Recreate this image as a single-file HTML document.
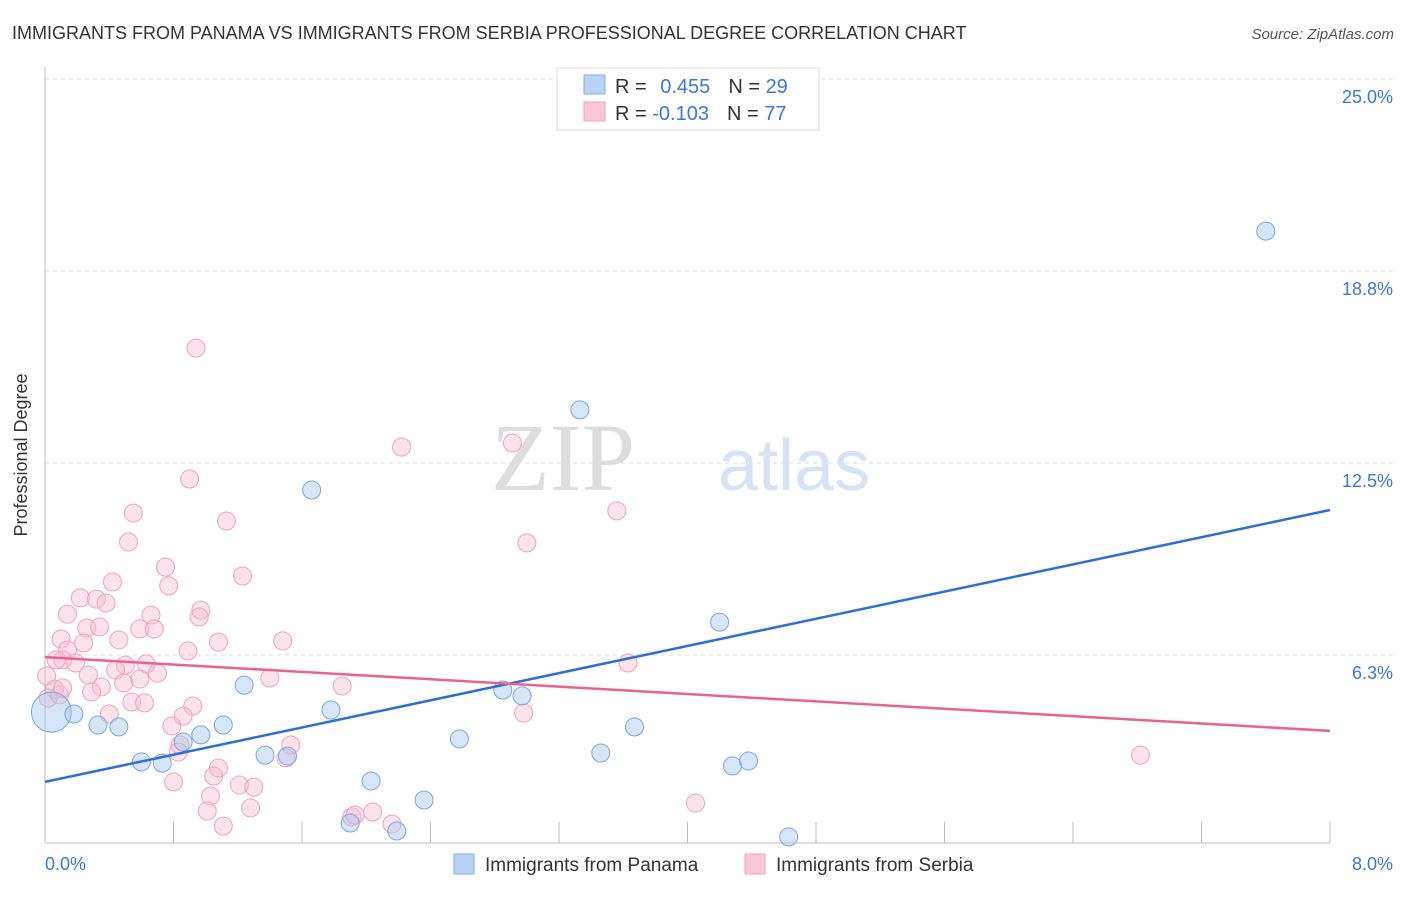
<!DOCTYPE html>
<html><head><meta charset="utf-8"><style>
body{margin:0;background:#fff;font-family:"Liberation Sans",sans-serif}
svg text{font-family:"Liberation Sans",sans-serif}
</style></head><body>
<svg width="1406" height="892" xmlns="http://www.w3.org/2000/svg">
<text x="12" y="39" font-size="18" fill="#333">IMMIGRANTS FROM PANAMA VS IMMIGRANTS FROM SERBIA PROFESSIONAL DEGREE CORRELATION CHART</text>
<text x="1394" y="39" font-size="15" fill="#555" text-anchor="end" font-style="italic">Source: ZipAtlas.com</text>
<text x="635" y="490" font-size="96" fill="#ddd" text-anchor="end" font-family="Liberation Serif" style="font-family:'Liberation Serif',serif">ZIP</text>
<text x="718" y="490" font-size="72" fill="#d5e3f5">atlas</text>
<g id="grid"></g>
<line x1="45" y1="67" x2="45" y2="843" stroke="#bbb"/>
<line x1="45" y1="843" x2="1330" y2="843" stroke="#bbb"/>
<g id="xt"></g>
<text x="27" y="455" font-size="18" fill="#333" text-anchor="middle" transform="rotate(-90 27 455)">Professional Degree</text>
<text x="45" y="870" font-size="18" fill="#3a78d4">0.0%</text>
<text x="1393" y="870" font-size="18" fill="#3a78d4" text-anchor="end">8.0%</text>
<g id="pts"></g>
<g id="lines"></g>
<g>
<rect x="557" y="68" width="262" height="62" fill="#fff" stroke="#ddd"/>
<rect x="584" y="75" width="21" height="19" fill="#b8d3f5" stroke="#86acdf"/>
<rect x="584" y="102" width="21" height="19" fill="#f9c6d5" stroke="#eda5bc"/>
<text x="615" y="93" font-size="20" fill="#333">R = <tspan fill="#3a78d4" dx="8">0.455</tspan><tspan dx="18" fill="#333">N = </tspan><tspan fill="#3a78d4">29</tspan></text>
<text x="615" y="120" font-size="20" fill="#333">R = <tspan fill="#3a78d4">-0.103</tspan><tspan dx="18" fill="#333">N = </tspan><tspan fill="#3a78d4">77</tspan></text>
</g>
<g>
<rect x="454" y="854" width="20" height="20" fill="#b8d3f5" stroke="#86acdf"/>
<text x="485" y="871" font-size="19" fill="#333">Immigrants from Panama</text>
<rect x="745" y="854" width="20" height="20" fill="#f9c6d5" stroke="#eda5bc"/>
<text x="776" y="871" font-size="19" fill="#333">Immigrants from Serbia</text>
</g>
</svg>
<script>
const yTicks=[6.25,12.5,18.75,25];
const yTickLabels=["6.3%","12.5%","18.8%","25.0%"];
const xTickVals=[0,0.8,1.6,2.4,3.2,4,4.8,5.6,6.4,7.2,8];
const panamaX=[0.04,0.18,0.33,0.46,0.60,0.73,0.86,0.97,1.11,1.24,1.37,1.51,1.66,1.78,1.90,2.03,2.19,2.36,2.58,2.85,2.97,3.33,3.46,3.67,4.20,4.28,4.38,4.63,7.60];
const panamaY=[4.39,4.33,3.97,3.91,2.77,2.73,3.42,3.65,3.97,5.27,2.99,2.96,11.62,4.46,0.78,2.15,0.52,1.53,3.52,5.11,4.92,14.23,3.06,3.91,7.32,2.64,2.80,0.33,20.05];
const panamaR=[20,9,9,9,9,9,9,9,9,9,9,9,9,9,9,9,9,9,9,9,9,9,9,9,9,9,9,9,9];
const serbiaX=[0.94,0.90,0.55,1.13,0.52,2.22,2.91,3.56,3.00,0.75,1.23,0.42,0.77,0.22,0.32,0.38,0.14,0.66,0.97,0.96,0.26,0.34,0.59,0.68,0.10,0.24,0.46,1.08,1.48,0.89,0.14,0.11,0.19,0.07,0.50,0.63,0.44,0.27,0.70,0.01,0.59,0.49,1.40,0.06,0.35,0.29,1.85,3.63,0.02,0.54,0.62,0.92,0.40,0.86,2.98,0.79,0.84,1.53,0.83,1.50,1.08,1.05,1.21,0.80,1.30,1.03,1.28,1.01,1.11,1.91,1.93,2.04,2.16,4.05,6.82,0.09,0.11];
const serbiaY=[16.24,11.98,10.87,10.61,9.93,13.02,13.15,10.94,9.90,9.11,8.82,8.63,8.50,8.11,8.07,7.94,7.58,7.55,7.71,7.49,7.13,7.16,7.10,7.10,6.77,6.64,6.74,6.67,6.71,6.38,6.41,6.09,5.99,6.09,5.92,5.96,5.76,5.60,5.66,5.57,5.47,5.34,5.50,5.14,5.21,5.05,5.24,5.99,4.85,4.72,4.69,4.59,4.33,4.26,4.36,3.94,3.32,3.32,3.09,2.90,2.57,2.31,2.02,2.12,1.95,1.66,1.27,1.17,0.68,0.98,1.04,1.14,0.75,1.43,2.99,4.95,5.18];
const trendPanama=[2.12,10.97];
const trendSerbia=[6.18,3.78];
const X=v=>45+v*160.625, Y=v=>847-v*30.72;
const NS="http://www.w3.org/2000/svg";
function mk(t,a,p){const e=document.createElementNS(NS,t);for(const k in a)e.setAttribute(k,a[k]);p.appendChild(e);return e;}
const grid=document.getElementById('grid');
yTicks.forEach((v,i)=>{
 const l=mk('line',{x1:45,x2:1393,y1:Y(v),y2:Y(v),stroke:'#ddd','stroke-dasharray':'4,4'},grid);
 
 
 const t=mk('text',{x:1393,y:Y(v)+24,'font-size':18,fill:'#3a78d4','text-anchor':'end'},grid);
 t.textContent=yTickLabels[i];
 
 
});
const xt=document.getElementById('xt');
xTickVals.forEach(v=>{
 const l=mk('line',{x1:X(v),x2:X(v),y1:822,y2:843,stroke:'#bbb'},xt);
 
 
});
const pts=document.getElementById('pts');
serbiaX.forEach((x,i)=>{
 const c=mk('circle',{cx:X(x),cy:Y(serbiaY[i]),r:9,fill:'rgba(248,185,205,0.4)',stroke:'#eea3bb','stroke-width':1},pts);
 
 
});
panamaX.forEach((x,i)=>{
 const c=mk('circle',{cx:X(x),cy:Y(panamaY[i]),r:panamaR[i],fill:'rgba(164,199,240,0.45)',stroke:'#7aa6e2','stroke-width':1},pts);
 
 
});
const lines=document.getElementById('lines');
const lp=mk('line',{x1:X(0),y1:Y(trendPanama[0]),x2:X(8),y2:Y(trendPanama[1]),stroke:'#2e6fd6','stroke-width':2.5},lines);


const ls=mk('line',{x1:X(0),y1:Y(trendSerbia[0]),x2:X(8),y2:Y(trendSerbia[1]),stroke:'#e8638f','stroke-width':2.5},lines);


</script>
</body></html>
